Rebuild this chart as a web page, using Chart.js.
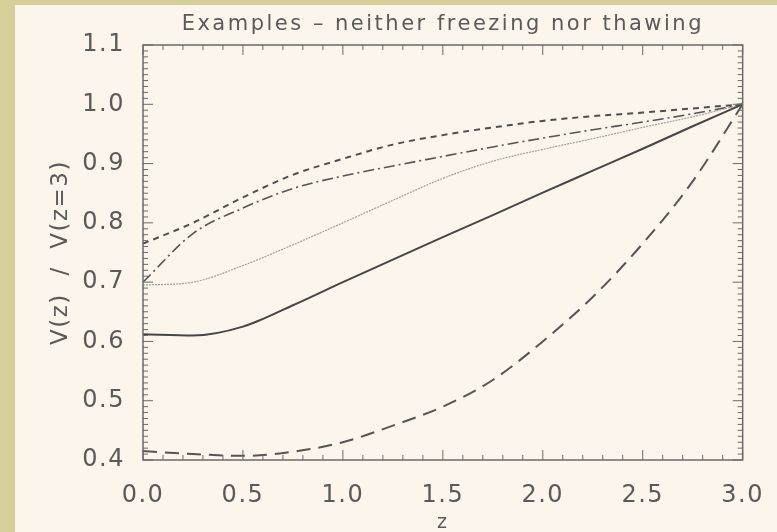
<!DOCTYPE html>
<html>
<head>
<meta charset="utf-8">
<script src="https://cdn.jsdelivr.net/npm/chart.js@4"></script>
<style>
  html, body { margin: 0; padding: 0; }
  body { width: 777px; height: 532px; background: #d6cf9a; overflow: hidden; position: relative; }
  #wrap { position: absolute; left: 15px; top: 5px; width: 762px; height: 527px; background: #fcf5ec; }
</style>
</head>
<body>
<div id="wrap"><canvas id="chart" width="762" height="527"></canvas></div>
<script>
const zValues = [0, 0.25, 0.5, 0.75, 1.0, 1.25, 1.5, 1.75, 2.0, 2.25, 2.5, 2.75, 3.0]
const shortDash = [0.765, 0.800, 0.843, 0.881, 0.908, 0.932, 0.948, 0.961, 0.972, 0.980, 0.986, 0.993, 1.0]
const dashDot = [0.700, 0.782, 0.825, 0.858, 0.879, 0.896, 0.912, 0.928, 0.943, 0.957, 0.970, 0.984, 1.0]
const dotted = [0.695, 0.700, 0.728, 0.763, 0.800, 0.838, 0.875, 0.904, 0.924, 0.942, 0.961, 0.979, 1.0]
const solid = [0.612, 0.610, 0.625, 0.661, 0.700, 0.738, 0.776, 0.813, 0.851, 0.888, 0.925, 0.963, 1.0]
const longDash = [0.415, 0.410, 0.407, 0.414, 0.430, 0.458, 0.490, 0.535, 0.600, 0.675, 0.765, 0.870, 1.0]

const xMajor = [0, 0.5, 1.0, 1.5, 2.0, 2.5, 3.0]
const yMajor = [0.4, 0.5, 0.6, 0.7, 0.8, 0.9, 1.0, 1.1]

const toPoints = vals => zValues.map((z, i) => ({ x: z, y: vals[i] }))

const fontFamily = 'DejaVu Sans'
const textGray = '#5a5a5a'

// wide Hershey-like text: spread letters, more for the title
const spacing = {
  id: 'spacing',
  beforeLayout(chart) { chart.ctx.letterSpacing = '1.5px' },
  beforeDraw(chart) { chart.ctx.letterSpacing = '1.5px' },
  afterDatasetsDraw(chart) { chart.ctx.letterSpacing = '2.5px' },
  afterDraw(chart) { chart.ctx.letterSpacing = '1.5px' }
}

// IDL style box with inward ticks on all four sides
const boxTicks = {
  id: 'boxTicks',
  afterDatasetsDraw(chart) {
    const { ctx, chartArea: a, scales } = chart
    const x = scales.x, y = scales.y
    ctx.save()
    ctx.strokeStyle = '#6a6a6a'
    ctx.lineWidth = 1.5
    ctx.strokeRect(a.left, a.top, a.right - a.left, a.bottom - a.top)
    ctx.lineWidth = 1
    ctx.beginPath()
    for (let i = 0; i <= 30; i++) {
      const px = x.getPixelForValue(i / 10)
      const len = i % 5 === 0 ? 10 : 5
      ctx.moveTo(px, a.bottom); ctx.lineTo(px, a.bottom - len)
      ctx.moveTo(px, a.top); ctx.lineTo(px, a.top + len)
    }
    for (let i = 40; i <= 110; i++) {
      const py = y.getPixelForValue(i / 100)
      const len = i % 10 === 0 ? 10 : 5
      ctx.moveTo(a.left, py); ctx.lineTo(a.left + len, py)
      ctx.moveTo(a.right, py); ctx.lineTo(a.right - len, py)
    }
    ctx.stroke()
    ctx.restore()
  }
}

const lineSet = (label, vals, color, width, dash) => ({
  label: label,
  data: toPoints(vals),
  borderColor: color,
  borderWidth: width,
  borderDash: dash,
  pointRadius: 0,
  fill: false,
  cubicInterpolationMode: 'monotone'
})

new Chart(document.getElementById('chart'), {
  type: 'line',
  data: {
    datasets: [
      lineSet('short dash', shortDash, '#4e4e4e', 2, [6, 5]),
      lineSet('dash dot', dashDot, '#555555', 1.6, [11, 4, 2, 4]),
      lineSet('dotted', dotted, '#a0a0a0', 1.2, [2, 1]),
      lineSet('solid', solid, '#464646', 2, []),
      lineSet('long dash', longDash, '#555555', 2, [14, 8])
    ]
  },
  plugins: [spacing, boxTicks],
  options: {
    responsive: false,
    animation: false,
    layout: { padding: { left: 0, right: 30, top: 0, bottom: 0 } },
    plugins: {
      legend: { display: false },
      tooltip: { enabled: false }
    },
    scales: {
      x: {
        type: 'linear',
        min: 0,
        max: 3,
        afterBuildTicks: scale => { scale.ticks = xMajor.map(v => ({ value: v })) },
        afterFit: scale => { scale.height = 72 },
        grid: { display: false },
        border: { display: false },
        ticks: {
          color: textGray,
          padding: 13,
          maxRotation: 0,
          font: { family: fontFamily, size: 24 },
          callback: v => v.toFixed(1)
        },
        title: {
          display: true,
          text: 'z',
          color: textGray,
          font: { family: fontFamily, size: 19 },
          padding: { top: 0, bottom: -2 }
        }
      },
      top: {
        type: 'linear',
        position: 'top',
        min: 0,
        max: 3,
        afterFit: scale => { scale.height = 40 },
        grid: { display: false, z: 1 },
        border: { display: false, z: 1 },
        ticks: { display: false, z: 1 },
        title: {
          display: true,
          text: 'Examples \u2013 neither freezing nor thawing',
          color: textGray,
          font: { family: fontFamily, size: 21, lineHeight: 1.2 },
          padding: { top: 7, bottom: 0 }
        }
      },
      y: {
        type: 'linear',
        min: 0.4,
        max: 1.1,
        afterBuildTicks: scale => { scale.ticks = yMajor.map(v => ({ value: v })) },
        afterFit: scale => { scale.width = 128 },
        grid: { display: false },
        border: { display: false },
        ticks: {
          color: textGray,
          padding: 10,
          font: { family: fontFamily, size: 24 },
          callback: v => v.toFixed(1)
        },
        title: {
          display: true,
          text: 'V(z)  /  V(z=3)',
          color: textGray,
          font: { family: fontFamily, size: 23 },
          padding: { top: 32, bottom: 0 }
        }
      }
    }
  }
})
</script>
</body>
</html>
